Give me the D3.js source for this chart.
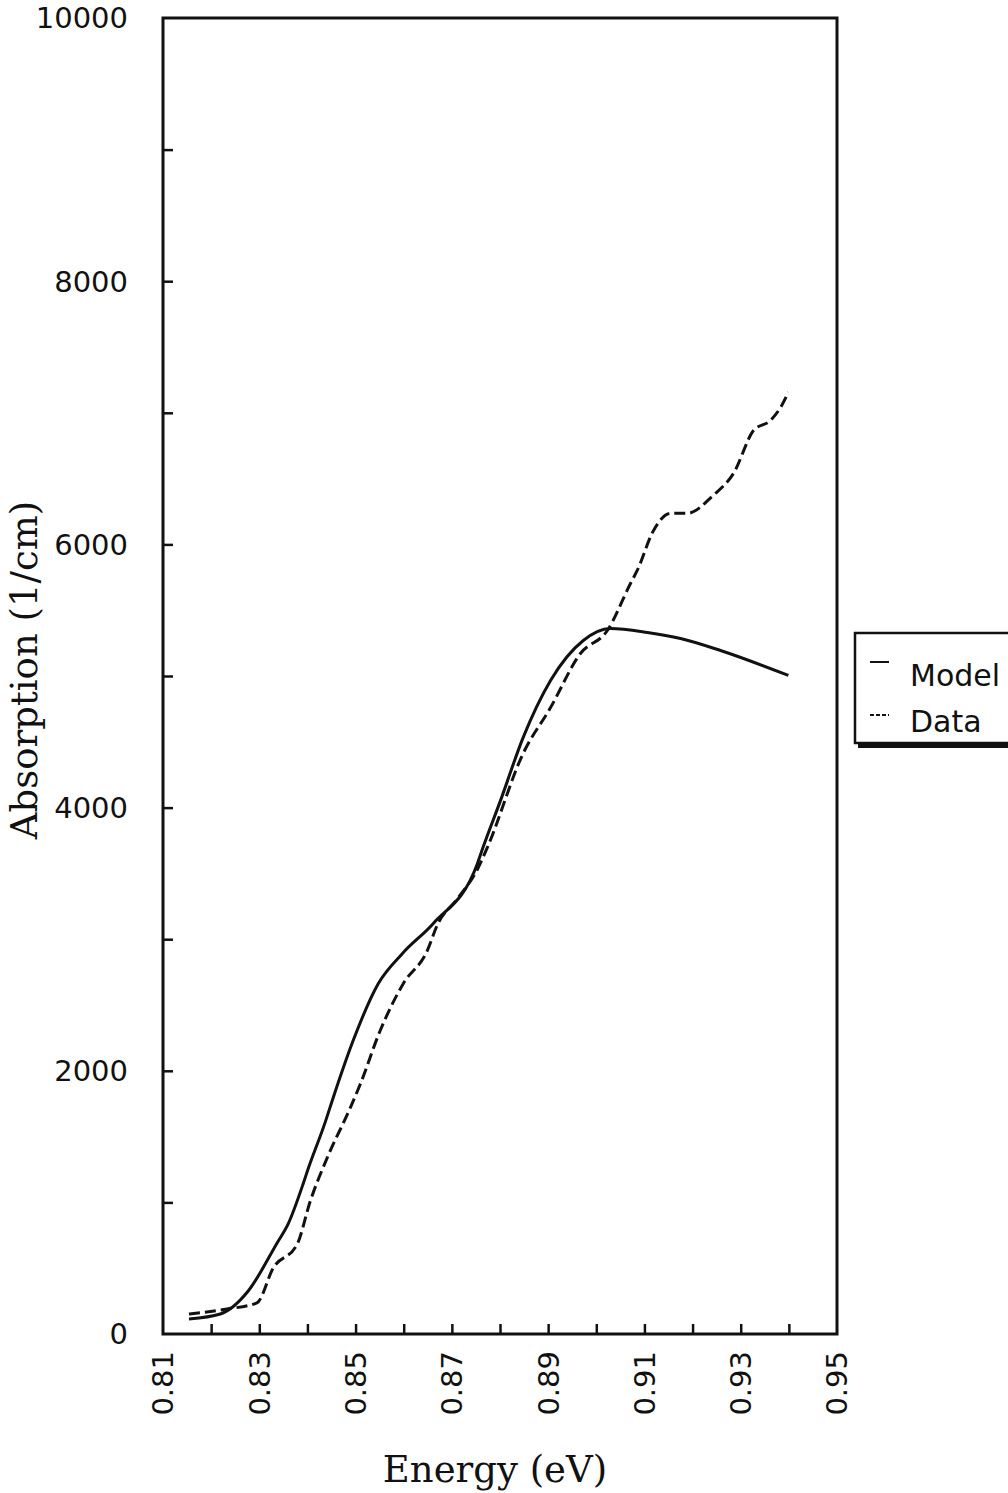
<!DOCTYPE html>
<html>
<head>
<meta charset="utf-8">
<script src="https://cdn.jsdelivr.net/npm/d3@7"></script>
<style>
  body { margin: 0; background: #fff; }
  svg { display: block; }
  .tick-label { font-family: "DejaVu Sans", sans-serif; font-size: 29px; fill: #111; }
  .axis-title { font-family: "DejaVu Serif", serif; font-size: 37px; fill: #111; }
  .legend-label { font-family: "DejaVu Sans", sans-serif; font-size: 30px; fill: #111; }
</style>
</head>
<body>
<svg></svg>
<script>
const width = 1008;
const height = 1493;

// values
const modelEnergy = [0.8154, 0.8219, 0.8277, 0.8337, 0.8360, 0.8391, 0.8401, 0.8437, 0.8453, 0.8495,
  0.8547, 0.8597, 0.8661, 0.8753, 0.8765, 0.8801, 0.8848, 0.8905, 0.8973, 0.9029, 0.9106, 0.9175, 0.9258, 0.9399];
const modelAbs = [114, 152, 327, 692, 837, 1140, 1250, 1610, 1790, 2230,
  2662, 2890, 3118, 3574, 3700, 4053, 4532, 4966, 5270, 5361, 5331, 5285, 5194, 5004];

const dataEnergy = [0.8154, 0.8233, 0.8295, 0.8329, 0.8379, 0.8406, 0.8441, 0.8489, 0.8510, 0.8551,
  0.8599, 0.8649, 0.8670, 0.8710, 0.8753, 0.8774, 0.8848, 0.8905, 0.8967, 0.9023, 0.9071, 0.9085, 0.9119,
  0.9154, 0.9189, 0.9243, 0.9285, 0.9327, 0.9362, 0.9383, 0.9399];
const dataAbs = [152, 190, 236, 502, 684, 1011, 1338, 1719, 1901, 2304,
  2662, 2913, 3110, 3300, 3530, 3700, 4411, 4760, 5171, 5346, 5703, 5802, 6106,
  6236, 6236, 6373, 6540, 6867, 6943, 7042, 7156];

const xTickValues = [0.81, 0.82, 0.83, 0.84, 0.85, 0.86, 0.87, 0.88, 0.89, 0.90, 0.91, 0.92, 0.93, 0.94, 0.95];
const xLabelValues = [0.81, 0.83, 0.85, 0.87, 0.89, 0.91, 0.93, 0.95];
const yTickValues = [0, 1000, 2000, 3000, 4000, 5000, 6000, 7000, 8000, 9000, 10000];
const yLabelValues = [0, 2000, 4000, 6000, 8000, 10000];
const seriesNames = ['Model', 'Data'];

const plotLeft = 163;
const plotRight = 837;
const plotTop = 18;
const plotBottom = 1334;

const svg = d3.select('svg')
  .attr('width', width)
  .attr('height', height);

const xScale = d3.scaleLinear()
  .domain([0.81, 0.95])
  .range([plotLeft, plotRight]);

const yScale = d3.scaleLinear()
  .domain([0, 10000])
  .range([plotBottom, plotTop]);

// frame
svg.append('rect')
  .attr('x', plotLeft)
  .attr('y', plotTop)
  .attr('width', plotRight - plotLeft)
  .attr('height', plotBottom - plotTop)
  .attr('fill', 'none')
  .attr('stroke', '#111')
  .attr('stroke-width', 3);

// inward ticks
const xAxis = d3.axisTop(xScale)
  .tickValues(xTickValues.slice(1, -1))
  .tickSize(10)
  .tickFormat('');

svg.append('g')
  .attr('transform', `translate(0, ${plotBottom})`)
  .call(xAxis)
  .call(g => g.select('.domain').remove())
  .call(g => g.selectAll('line').attr('stroke', '#111').attr('stroke-width', 2.5));

const yAxis = d3.axisRight(yScale)
  .tickValues(yTickValues.slice(1, -1))
  .tickSize(10)
  .tickFormat('');

svg.append('g')
  .attr('transform', `translate(${plotLeft}, 0)`)
  .call(yAxis)
  .call(g => g.select('.domain').remove())
  .call(g => g.selectAll('line').attr('stroke', '#111').attr('stroke-width', 2.5));

// tick labels
svg.selectAll('.x-label')
  .data(xLabelValues)
  .enter()
  .append('text')
  .classed('tick-label', true)
  .attr('text-anchor', 'end')
  .attr('dy', '0.36em')
  .attr('transform', d => `translate(${xScale(d)}, ${plotBottom + 17}) rotate(-90)`)
  .text(d => d.toFixed(2));

svg.selectAll('.y-label')
  .data(yLabelValues)
  .enter()
  .append('text')
  .classed('tick-label', true)
  .attr('text-anchor', 'end')
  .attr('x', plotLeft - 35)
  .attr('y', d => yScale(d))
  .attr('dy', '0.36em')
  .text(d => d);

// axis titles
svg.append('text')
  .classed('axis-title', true)
  .attr('text-anchor', 'middle')
  .attr('x', 495)
  .attr('y', 1482)
  .text('Energy (eV)');

svg.append('text')
  .classed('axis-title', true)
  .attr('text-anchor', 'middle')
  .attr('transform', 'translate(37, 670) rotate(-90)')
  .text('Absorption (1/cm)');

// curves
const line = d3.line()
  .x(d => xScale(d[0]))
  .y(d => yScale(d[1]))
  .curve(d3.curveMonotoneX);

svg.append('path')
  .datum(d3.zip(modelEnergy, modelAbs))
  .attr('fill', 'none')
  .attr('stroke', '#111')
  .attr('stroke-width', 3)
  .attr('stroke-linejoin', 'round')
  .attr('d', line);

svg.append('path')
  .datum(d3.zip(dataEnergy, dataAbs))
  .attr('fill', 'none')
  .attr('stroke', '#111')
  .attr('stroke-width', 3)
  .attr('stroke-dasharray', '11,5')
  .attr('d', line);

// legend
const legend = svg.append('g');

legend.append('rect')
  .attr('x', 858)
  .attr('y', 636)
  .attr('width', 170)
  .attr('height', 112)
  .attr('fill', '#111');

legend.append('rect')
  .attr('x', 855)
  .attr('y', 633)
  .attr('width', 170)
  .attr('height', 110)
  .attr('fill', '#fff')
  .attr('stroke', '#111')
  .attr('stroke-width', 2.5);

seriesNames.forEach((name, i) => {
  const y = 662 + i * 53;
  legend.append('line')
    .attr('x1', 870)
    .attr('x2', 889)
    .attr('y1', y)
    .attr('y2', y)
    .attr('stroke', '#111')
    .attr('stroke-width', 2)
    .attr('stroke-dasharray', i === 0 ? null : '4,2');

  legend.append('text')
    .classed('legend-label', true)
    .attr('x', 910)
    .attr('y', 686 + i * 46)
    .text(name);
});
</script>
</body>
</html>
